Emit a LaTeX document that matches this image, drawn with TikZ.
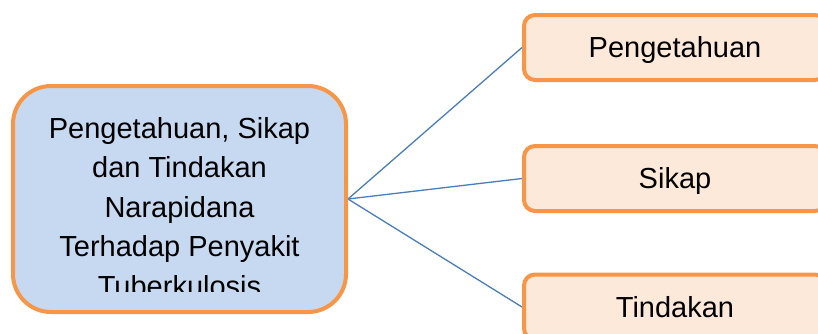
\documentclass[tikz,border=0pt]{standalone}
\usepackage{fontspec}
\setmainfont{Liberation Sans}
\usetikzlibrary{backgrounds}
\definecolor{boxline}{HTML}{F79646}
\definecolor{mainfill}{HTML}{C6D9F1}
\definecolor{subfill}{HTML}{FDE9D9}
\definecolor{linkblue}{HTML}{4A7EBB}
\begin{document}
\begin{tikzpicture}[x=1pt,y=-1pt,
  mainbox/.style={draw=boxline, line width=4pt, fill=mainfill, rounded corners=38pt,
    minimum width=333pt, minimum height=226pt, inner sep=0pt},
  maintext/.style={align=center, inner sep=0pt, font=\fontsize{29}{39.5}\selectfont},
  subbox/.style={draw=boxline, line width=4pt, fill=subfill, rounded corners=11pt,
    minimum width=302pt, minimum height=65pt, inner sep=0pt,
    text height=20.5pt, text depth=0pt, font=\fontsize{29}{34}\selectfont},
  link/.style={draw=linkblue, line width=1.3pt}]
\useasboundingbox (0,0) rectangle (818,333);
\clip (0,0) rectangle (818,333);

% central topic
\node[mainbox] (main) at (179.5,199) {};
\begin{scope}
  \clip (0,0) rectangle (818,291);
  \node[maintext] (mainlabel) at (179.5,207)
    {Pengetahuan, Sikap\\dan Tindakan\\Narapidana\\Terhadap Penyakit\\Tuberkulosis};
\end{scope}

% branches
\node[subbox] (p1) at (675,47.5) {Pengetahuan};
\node[subbox] (p2) at (675,178.5) {Sikap};
\node[subbox] (p3) at (675,307) {Tindakan};

% connectors
\begin{scope}[on background layer]
  \draw[link] (main.east) -- (p1.west);
  \draw[link] (main.east) -- (p2.west);
  \draw[link] (main.east) -- (p3.west);
\end{scope}
\end{tikzpicture}
\end{document}
